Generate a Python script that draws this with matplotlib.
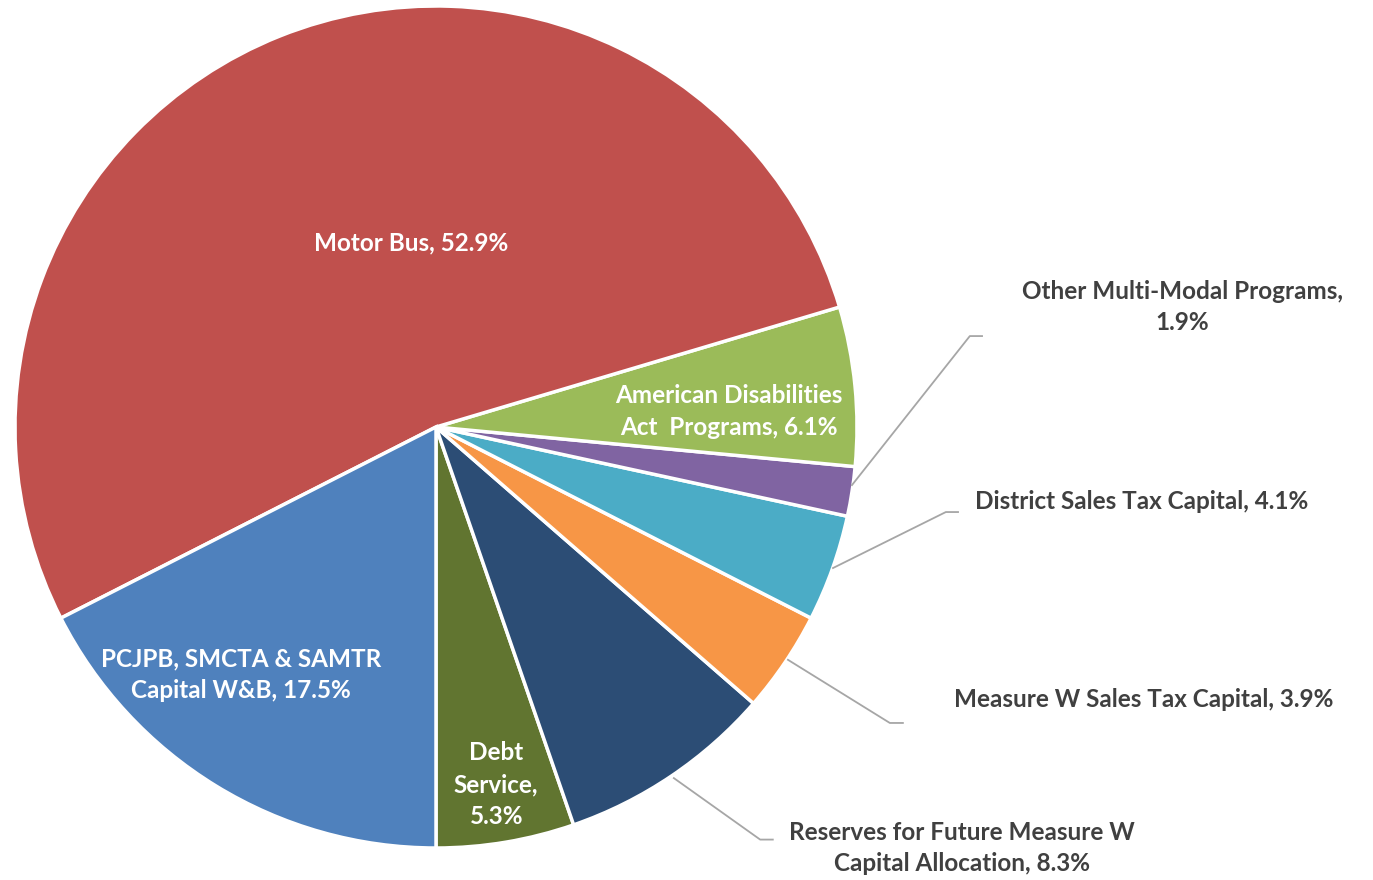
import matplotlib.pyplot as plt

# --- Data ---
labels = ['Debt\nService,\n5.3%',
          'Reserves for Future Measure W\nCapital Allocation, 8.3%',
          'Measure W Sales Tax Capital, 3.9%',
          'District Sales Tax Capital, 4.1%',
          'Other Multi-Modal Programs,\n1.9%',
          'American Disabilities\nAct  Programs, 6.1%',
          'Motor Bus, 52.9%',
          'PCJPB, SMCTA & SAMTR\nCapital W&B, 17.5%']
values = [5.3, 8.3, 3.9, 4.1, 1.9, 6.1, 52.9, 17.5]
colors = ['#617530', '#2C4D75', '#F79646', '#4BACC6', '#8064A2',
          '#9BBB59', '#C0504D', '#4F81BD']

# label placement (pie radius = 1, centre at origin)
inside = {0: (0.143, -0.850), 5: (0.696, 0.036), 6: (-0.059, 0.437),
          7: (-0.463, -0.589)}
outside = {1: (1.249, -1.000), 2: (1.680, -0.648), 3: (1.675, -0.178),
           4: (1.772, 0.285)}
# leader lines: point on slice, elbow, end
leaders = {1: [(0.565, -0.834), (0.770, -0.980), (0.800, -0.980)],
           2: [(0.836, -0.553), (1.078, -0.703), (1.109, -0.703)],
           3: [(0.943, -0.335), (1.211, -0.202), (1.240, -0.202)],
           4: [(0.988, -0.138), (1.268, 0.216), (1.297, 0.216)]}

plt.rcParams['font.family'] = ['Lato', 'DejaVu Sans']

fig = plt.figure(figsize=(13.73, 8.8), dpi=100)
ax = fig.add_axes([0, 0, 1, 1])

ax.pie(values, colors=colors, startangle=270, counterclock=True,
       radius=1.0, wedgeprops=dict(edgecolor='white', linewidth=2.5))

for i, (x, y) in inside.items():
    ax.text(x, y, labels[i], ha='center', va='center', color='white',
            fontsize=17.5, fontweight='bold', linespacing=1.47)

for i, (x, y) in outside.items():
    ax.text(x, y, labels[i], ha='center', va='center', color='#404040',
            fontsize=17.5, fontweight='bold', linespacing=1.47)

for i, pts in leaders.items():
    xs = [p[0] for p in pts]
    ys = [p[1] for p in pts]
    ax.plot(xs, ys, color='#A6A6A6', linewidth=1.3, clip_on=False)

ax.set_xlim(-436 / 421, (1373 - 436) / 421)
ax.set_ylim(-453 / 421, 427 / 421)
ax.set_aspect('auto')
ax.axis('off')

fig.savefig('out.png', dpi=100, facecolor='white')
